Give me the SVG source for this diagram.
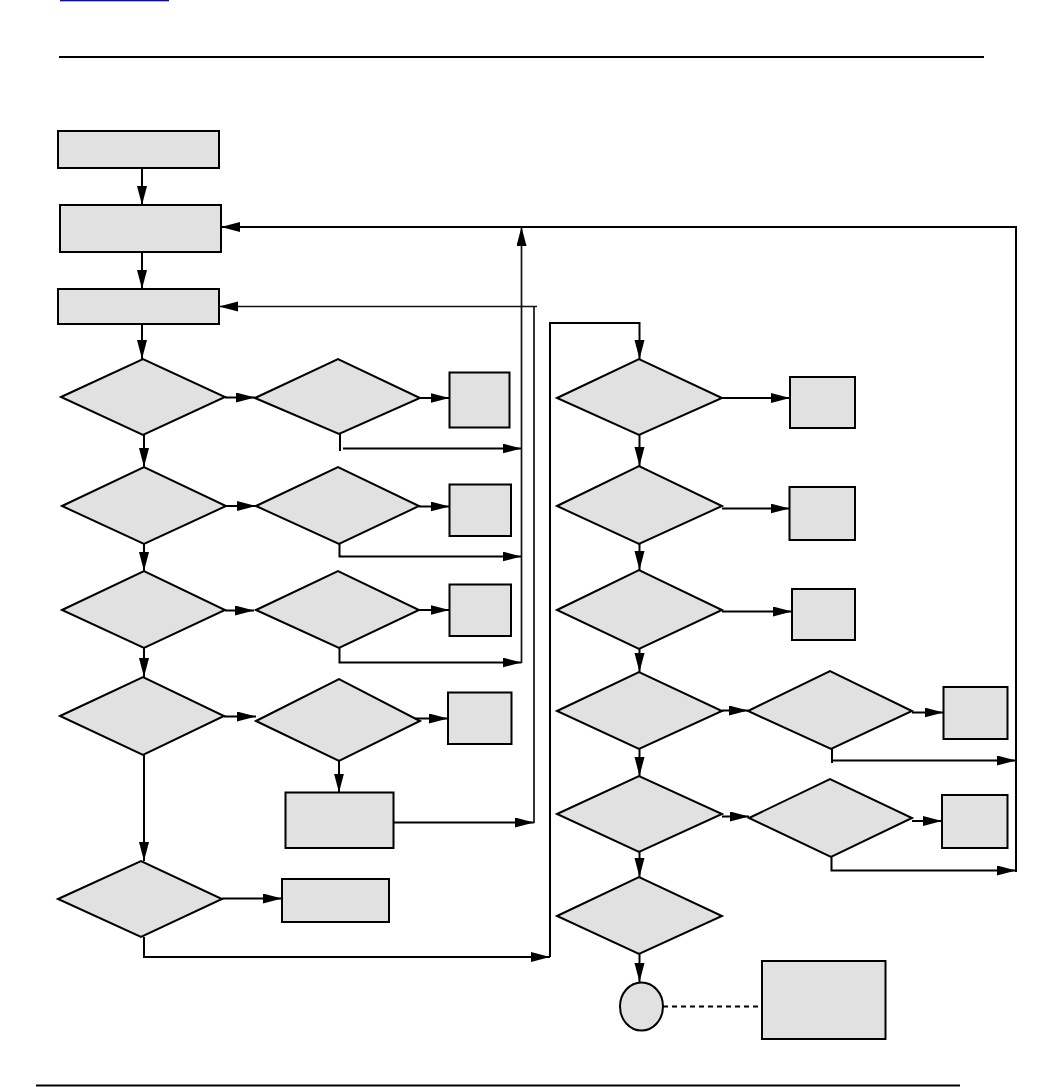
<svg xmlns="http://www.w3.org/2000/svg" width="1044" height="1087" viewBox="0 0 1044 1087">
<style>
.n{fill:#e1e1e1;stroke:#000;stroke-width:2}
.c{fill:none;stroke:#000;stroke-width:2}
.t{fill:none;stroke:#111;stroke-width:1.7}
.rule{stroke:#000;stroke-width:2}
</style>
<defs>
<marker id="a" markerUnits="userSpaceOnUse" markerWidth="20" markerHeight="11" refX="19" refY="5" orient="auto">
<path d="M0,0 L19,5 L0,10 z" fill="#000"/>
</marker>
</defs>
<rect width="1044" height="1087" fill="#fff"/>
<rect x="60" y="0" width="109" height="1.3" fill="#0000ff"/>
<line class="rule" x1="59" y1="57" x2="984" y2="57"/>
<line class="rule" x1="36" y1="1085.5" x2="960" y2="1085.5"/>

<g id="box1"><rect class="n" x="58" y="131" width="161" height="37"/></g>
<g id="box2"><rect class="n" x="60" y="205" width="161" height="47"/></g>
<g id="box3"><rect class="n" x="58" y="289" width="161" height="35"/></g>
<g id="d1"><polygon class="n" points="61,397 143,359 225,397 143,435"/></g>
<g id="d2"><polygon class="n" points="62,506 144,467 226,506 144,544"/></g>
<g id="d3"><polygon class="n" points="62,610 144,571 225,610 144,648"/></g>
<g id="d4"><polygon class="n" points="60,716 143,677 224,716 143,755"/></g>
<g id="d5"><polygon class="n" points="58,899 141,861 222,899 141,937"/></g>
<g id="d1b"><polygon class="n" points="255,398 338,359 420,398 339,434"/></g>
<g id="d2b"><polygon class="n" points="256,506 338,467 419,506 339,544"/></g>
<g id="d3b"><polygon class="n" points="256,610 338,571 419,610 339,648"/></g>
<g id="d4b"><polygon class="n" points="256,721 339,679 420,721 339,761"/></g>
<g id="d1c"><rect class="n" x="449.5" y="372.5" width="60" height="55"/></g>
<g id="d2c"><rect class="n" x="449.5" y="484.5" width="61.5" height="51.5"/></g>
<g id="d3c"><rect class="n" x="449.5" y="584.5" width="61.5" height="51.5"/></g>
<g id="d4c"><rect class="n" x="448" y="692.5" width="63.5" height="51.5"/></g>
<g id="b4"><rect class="n" x="285.5" y="792.5" width="108" height="55.5"/></g>
<g id="d5c"><rect class="n" x="282" y="879" width="107" height="43"/></g>

<g id="r1"><polygon class="n" points="557,398 639,359 722,398 639,435"/></g>
<g id="r2"><polygon class="n" points="557,506 639,466 722,506 639,544"/></g>
<g id="r3"><polygon class="n" points="557,610 639,570 722,610 639,649"/></g>
<g id="r4"><polygon class="n" points="557,711 639,672 722,711 639,749"/></g>
<g id="r5"><polygon class="n" points="557,814 639,776 722,814 639,852"/></g>
<g id="r6"><polygon class="n" points="557,916 639,877 722,916 639,954"/></g>
<g id="r1c"><rect class="n" x="790" y="377" width="65" height="51"/></g>
<g id="r2c"><rect class="n" x="789.5" y="487" width="65.5" height="53"/></g>
<g id="r3c"><rect class="n" x="792" y="589" width="63" height="51"/></g>
<g id="r4b"><polygon class="n" points="748,711 830,671 912,711 831,749"/></g>
<g id="r5b"><polygon class="n" points="749,818 830,779 912,818 831,857"/></g>
<g id="r4c"><rect class="n" x="943.5" y="687" width="64" height="52"/></g>
<g id="r5c"><rect class="n" x="942" y="795" width="65.5" height="53"/></g>
<g id="end"><ellipse class="n" cx="641.5" cy="1006.5" rx="21.5" ry="24"/></g>
<g id="note"><rect class="n" x="762" y="961" width="123.5" height="78"/></g>

<g id="connectors">
<path class="c" d="M142,168 V205" marker-end="url(#a)"/>
<path class="c" d="M142,252 V289" marker-end="url(#a)"/>
<path class="c" d="M142,324 V359" marker-end="url(#a)"/>
<path class="c" d="M144,435 V467" marker-end="url(#a)"/>
<path class="c" d="M144,544 V571" marker-end="url(#a)"/>
<path class="c" d="M144,648 V677" marker-end="url(#a)"/>
<path class="c" d="M144,755 V861" marker-end="url(#a)"/>
<path class="c" d="M225,397.5 H255" marker-end="url(#a)"/>
<path class="c" d="M226,506 H256" marker-end="url(#a)"/>
<path class="c" d="M225,610.5 H254" marker-end="url(#a)"/>
<path class="c" d="M224,716.5 H256" marker-end="url(#a)"/>
<path class="c" d="M222,898.5 H282" marker-end="url(#a)"/>
<path class="c" d="M420,398 H449.5" marker-end="url(#a)"/>
<path class="c" d="M419,506.5 H449.5" marker-end="url(#a)"/>
<path class="c" d="M419,610 H449.5" marker-end="url(#a)"/>
<path class="c" d="M415,718.5 H448" marker-end="url(#a)"/>
<path class="c" d="M339,761 V792.5" marker-end="url(#a)"/>
<path class="c" d="M393.5,822.5 H534" marker-end="url(#a)"/>
<path class="c" d="M340,434 V451"/>
<path class="c" d="M343,448.5 H521.5" marker-end="url(#a)"/>
<path class="c" d="M339.5,544 V556.5 H521.5" marker-end="url(#a)"/>
<path class="c" d="M339.5,648 V662.5 H521.5" marker-end="url(#a)"/>
<path class="t" d="M521.5,663 V227" marker-end="url(#a)"/>
<path class="c" d="M1016,872 V227 H221" marker-end="url(#a)"/>
<path class="t" d="M534,823 V306.5"/>
<path class="t" d="M537,306.5 H219" marker-end="url(#a)"/>
<path class="c" d="M144,937 V957 H550" marker-end="url(#a)"/>
<path class="c" d="M550,957 V323 H639.5 V359" marker-end="url(#a)"/>
<path class="c" d="M722,398 H790" marker-end="url(#a)"/>
<path class="c" d="M639.5,435 V466" marker-end="url(#a)"/>
<path class="c" d="M722,508.5 H789.5" marker-end="url(#a)"/>
<path class="c" d="M639.5,544 V570" marker-end="url(#a)"/>
<path class="c" d="M722,611.5 H792" marker-end="url(#a)"/>
<path class="c" d="M639.5,649 V672" marker-end="url(#a)"/>
<path class="c" d="M722,710.5 H748" marker-end="url(#a)"/>
<path class="c" d="M912,712.5 H943.5" marker-end="url(#a)"/>
<path class="c" d="M832,749 V763"/>
<path class="c" d="M832,760.5 H1016" marker-end="url(#a)"/>
<path class="c" d="M639.5,749 V776" marker-end="url(#a)"/>
<path class="c" d="M722,816.5 H749" marker-end="url(#a)"/>
<path class="c" d="M912,821 H942" marker-end="url(#a)"/>
<path class="c" d="M831.5,857 V870.5 H1016" marker-end="url(#a)"/>
<path class="c" d="M639.5,852 V877" marker-end="url(#a)"/>
<path class="c" d="M639.5,954 V982" marker-end="url(#a)"/>
<path class="c" d="M663,1006.5 H762" stroke-dasharray="5,4"/>
</g>
</svg>
